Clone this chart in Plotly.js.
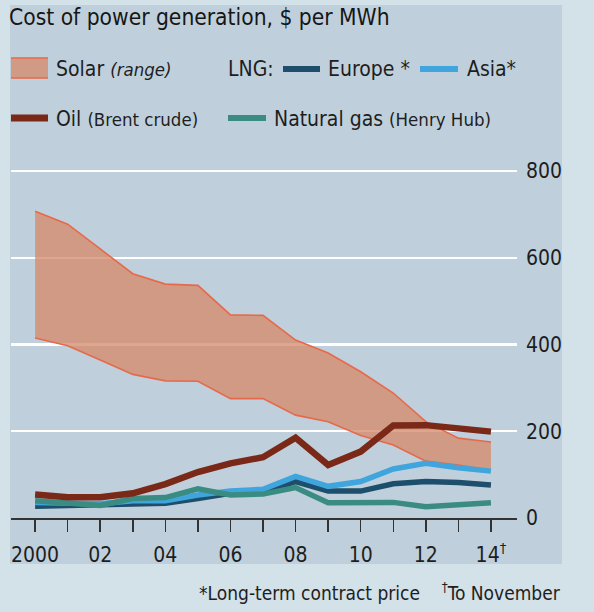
<!DOCTYPE html>
<html>
<head>
<meta charset="utf-8">
<script src="https://cdn.plot.ly/plotly-3.0.1.min.js"></script>
<style>
  html, body { margin: 0; padding: 0; background: #d3e1e9; }
  #chart { width: 594px; height: 612px; }
</style>
</head>
<body>
<div id="chart"></div>
<script>
// ---- Data ----
const years = [2000, 2001, 2002, 2003, 2004, 2005, 2006, 2007, 2008, 2009, 2010, 2011, 2012, 2013, 2014];
const solarHigh = [707, 677, 620, 563, 539, 536, 468, 467, 410, 380, 337, 288, 222, 184, 175];
const solarLow  = [415, 397, 364, 331, 316, 315, 275, 275, 237, 222, 190, 168, 131, 122, 110];
const oilBrent  = [54, 48, 48, 57, 78, 106, 126, 140, 185, 122, 153, 213, 214, 208, 199];
const lngEurope = [27, 28, 29, 32, 34, 45, 57, 60, 84, 62, 62, 79, 84, 82, 76];
const lngAsia   = [36, 36, 33, 40, 40, 53, 62, 66, 96, 73, 84, 113, 126, 116, 108];
const henryHub  = [40, 34, 29, 45, 47, 67, 53, 55, 70, 35, 37, 36, 26, 31, 35];
const xTickVals = [2000, 2002, 2004, 2006, 2008, 2010, 2012, 2014];
const xTickText = ["2000", "02", "04", "06", "08", "10", "12", "14<sup>†</sup>"];
const xMinorVals = [2001, 2003, 2005, 2007, 2009, 2011, 2013];
const yTickVals = [0, 200, 400, 600, 800];

// ---- Layout geometry ----
const W = 594, H = 612;
const M = { l: 11, r: 77, t: 150, b: 94 };
const PW = W - M.l - M.r, PH = H - M.t - M.b;
const xp = px => (px - M.l) / PW;
const yp = py => 1 - (py - M.t) / PH;

const FONT = '"DejaVu Sans Condensed", "DejaVu Sans", sans-serif';
const TXT = '#1e1e1e';
const C = {
  solarFill: 'rgba(214,136,103,0.75)',
  solarLine: '#e8694a',
  oil: '#7a2817',
  europe: '#1d4e6b',
  asia: '#3fa5dc',
  gas: '#3a8c82'
};

const traces = [
  { x: years, y: solarLow, mode: 'lines', line: { color: C.solarLine, width: 1.6 }, hoverinfo: 'skip', showlegend: false },
  { x: years, y: solarHigh, mode: 'lines', fill: 'tonexty', fillcolor: C.solarFill, line: { color: C.solarLine, width: 1.6 }, hoverinfo: 'skip', showlegend: false },
  { x: years, y: lngEurope, mode: 'lines', line: { color: C.europe, width: 5.5 }, showlegend: false },
  { x: years, y: lngAsia, mode: 'lines', line: { color: C.asia, width: 5.5 }, showlegend: false },
  { x: years, y: henryHub, mode: 'lines', line: { color: C.gas, width: 5.5 }, showlegend: false },
  { x: years, y: oilBrent, mode: 'lines', line: { color: C.oil, width: 6.5 }, showlegend: false }
];

const shapes = [
  // inner panel
  { type: 'rect', xref: 'paper', yref: 'paper', x0: xp(10), x1: xp(562), y0: yp(564), y1: yp(5), fillcolor: '#bfd0dc', line: { width: 0 }, layer: 'below' },
  // legend swatches
  { type: 'rect', xref: 'paper', yref: 'paper', x0: xp(11), x1: xp(48), y0: yp(78), y1: yp(58), fillcolor: C.solarFill, line: { width: 0 } },
  { type: 'line', xref: 'paper', yref: 'paper', x0: xp(11), x1: xp(48), y0: yp(58), y1: yp(58), line: { color: C.solarLine, width: 1.6 } },
  { type: 'line', xref: 'paper', yref: 'paper', x0: xp(11), x1: xp(48), y0: yp(78), y1: yp(78), line: { color: C.solarLine, width: 1.6 } },
  { type: 'line', xref: 'paper', yref: 'paper', x0: xp(283), x1: xp(320), y0: yp(69), y1: yp(69), line: { color: C.europe, width: 6 } },
  { type: 'line', xref: 'paper', yref: 'paper', x0: xp(420), x1: xp(458), y0: yp(69), y1: yp(69), line: { color: C.asia, width: 6 } },
  { type: 'line', xref: 'paper', yref: 'paper', x0: xp(11), x1: xp(48), y0: yp(118), y1: yp(118), line: { color: C.oil, width: 7 } },
  { type: 'line', xref: 'paper', yref: 'paper', x0: xp(228), x1: xp(266), y0: yp(118), y1: yp(118), line: { color: C.gas, width: 6 } }
];

function ann(text, px, py, size, extra) {
  return Object.assign({ text: text, xref: 'paper', yref: 'paper', x: xp(px), y: yp(py), xanchor: 'left', yanchor: 'middle', showarrow: false, font: { family: FONT, size: size, color: TXT } }, extra || {});
}

const annotations = [
  ann('Solar <i><span style="font-size:18.5px">(range)</span></i>', 54, 69, 21),
  ann('LNG:', 226, 69, 21),
  ann('Europe *', 326, 69, 21),
  ann('Asia*', 465, 69, 21),
  ann('Oil <span style="font-size:18.5px">(Brent crude)</span>', 54, 119, 21),
  ann('Natural gas <span style="font-size:18.5px">(Henry Hub)</span>', 272, 119, 21),
  ann('*Long-term contract price    <sup>†</sup>To November', 563, 592, 19, { xanchor: 'right' })
];

const layout = {
  width: W, height: H,
  margin: M,
  paper_bgcolor: '#d3e1e9',
  plot_bgcolor: 'rgba(0,0,0,0)',
  title: { text: 'Cost of power generation, $ per MWh', font: { family: FONT, size: 22.6, color: '#161616' }, xref: 'container', yref: 'container', x: 9 / W, xanchor: 'left', y: 1 - 17 / H, yanchor: 'middle' },
  xaxis: {
    range: [1999.26, 2014.8],
    tickmode: 'array', tickvals: xTickVals, ticktext: xTickText,
    ticks: 'outside', ticklen: 12, tickwidth: 1.5, tickcolor: '#333',
    minor: { tickmode: 'array', tickvals: xMinorVals, ticks: 'outside', ticklen: 12, tickwidth: 1.5, tickcolor: '#333', showgrid: false },
    showline: true, linecolor: '#333', linewidth: 1.5,
    showgrid: false, zeroline: false,
    ticklabelstandoff: 5,
    tickfont: { family: FONT, size: 21, color: TXT }
  },
  yaxis: {
    range: [0, 848], side: 'right',
    tickmode: 'array', tickvals: yTickVals,
    ticks: '', showline: false,
    showgrid: true, gridcolor: '#ffffff', gridwidth: 2.2,
    zeroline: false,
    ticklabelstandoff: 8,
    tickfont: { family: FONT, size: 21, color: TXT }
  },
  shapes: shapes,
  annotations: annotations,
  showlegend: false
};

Plotly.newPlot('chart', traces, layout, { staticPlot: true, displayModeBar: false });
</script>
</body>
</html>
